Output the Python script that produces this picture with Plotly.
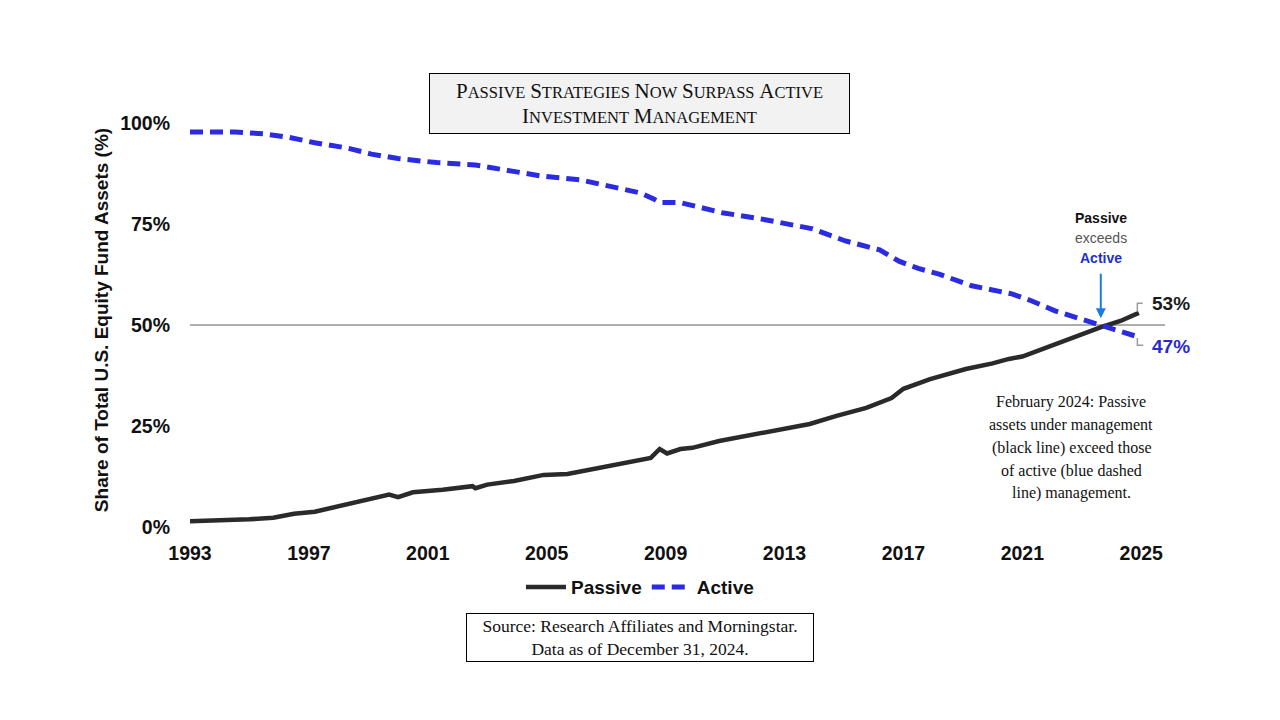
import plotly.graph_objects as go

# ---------------------------------------------------------
# DATA
# ---------------------------------------------------------
passive_years = [1993.0, 1994.0, 1995.0, 1995.8, 1996.5, 1997.2, 1997.8, 1998.5,
                 1999.3, 1999.7, 2000.0, 2000.5, 2001.5, 2002.5, 2002.6, 2003.0,
                 2003.9, 2004.9, 2005.7, 2006.8, 2007.6, 2008.5, 2008.8, 2009.05,
                 2009.5, 2009.9, 2010.8, 2011.5, 2012.2, 2013.0, 2013.85, 2014.75,
                 2015.75, 2016.6, 2017.0, 2017.9, 2019.1, 2020.0, 2020.55, 2021.0,
                 2021.65, 2022.8, 2023.65, 2024.3, 2024.92]
passive_share = [1.4, 1.6, 1.9, 2.3, 3.3, 3.8, 4.8, 5.8,
                 7.3, 8.0, 7.4, 8.6, 9.2, 10.1, 9.6, 10.5,
                 11.4, 12.9, 13.1, 14.6, 15.8, 17.1, 19.3, 18.2,
                 19.3, 19.6, 21.3, 22.2, 23.3, 24.3, 25.5, 27.5,
                 29.5, 31.9, 34.2, 36.6, 39.1, 40.5, 41.6, 42.2,
                 44.0, 47.3, 49.5, 51.0, 53.0]

active_years = [1993.0, 1994.5, 1995.5, 1996.3, 1997.2, 1998.3, 1999.1, 2000.0,
                2001.3, 2002.6, 2003.5, 2004.8, 2006.15, 2007.0, 2008.15, 2008.6,
                2008.8, 2009.5, 2010.2, 2010.9, 2012.25, 2013.0, 2013.95, 2015.05,
                2016.2, 2016.85, 2017.5, 2018.2, 2019.3, 2020.65, 2021.3, 2022.1,
                2023.0, 2023.55, 2024.55, 2024.92]
active_share = [97.8, 97.8, 97.3, 96.5, 95.1, 93.8, 92.3, 91.2,
                90.2, 89.6, 88.5, 86.9, 85.9, 84.6, 82.7, 81.2,
                80.3, 80.3, 79.2, 77.8, 76.2, 75.2, 73.8, 70.8,
                68.6, 65.8, 64.0, 62.6, 59.7, 57.7, 56.0, 53.5,
                51.5, 50.2, 47.8, 47.0]

x_ticks = [1993, 1997, 2001, 2005, 2009, 2013, 2017, 2021, 2025]
y_ticks = [0, 25, 50, 75, 100]

end_passive = 53
end_active = 47
crossover_year = 2023.64

note_lines = ["February 2024: Passive", "assets under management",
              "(black line) exceed those", "of active (blue dashed",
              "line) management."]

SANS = "Liberation Sans"
SERIF = "Liberation Serif"
BLACK = "#2a2a2a"
BLUE = "#2b2bdf"


def small_caps(text, big=21, small=16.5):
    # fake small caps: first letter of each word big, rest smaller capitals
    words = []
    for w in text.split(" "):
        words.append(f"<span style='font-size:{big}px'>{w[0].upper()}</span>"
                     f"<span style='font-size:{small}px'>{w[1:].upper()}</span>")
    return " ".join(words)


# ---------------------------------------------------------
# TRACES
# ---------------------------------------------------------
fig = go.Figure()
fig.add_trace(go.Scatter(
    x=passive_years, y=passive_share, mode="lines", name="Passive",
    line=dict(color=BLACK, width=4.5)
))
fig.add_trace(go.Scatter(
    x=active_years, y=active_share, mode="lines", name="Active",
    line=dict(color=BLUE, width=5, dash="13px,7px")
))

# 50% reference line
fig.add_shape(type="line", xref="paper", x0=0, x1=1, y0=50, y1=50,
              line=dict(color="#5e5e5e", width=1.2), layer="below")

# little grey brackets next to end labels
fig.add_shape(type="path", path="M 2024.87,53.3 L 2024.87,55.4 L 2025.05,55.4",
              line=dict(color="#9a9a9a", width=1.5))
fig.add_shape(type="path", path="M 2024.87,46.8 L 2024.87,45.0 L 2025.07,45.0",
              line=dict(color="#9a9a9a", width=1.5))

# ---------------------------------------------------------
# ANNOTATIONS
# ---------------------------------------------------------
# title box
fig.add_annotation(
    xref="paper", yref="paper", x=0.4615, y=1.048, xanchor="center", yanchor="middle",
    text=small_caps("Passive Strategies Now Surpass Active") + "<br>"
         + small_caps("Investment Management"),
    showarrow=False, align="center", width=417, height=57,
    bgcolor="#f2f2f2", bordercolor="#000000", borderwidth=1, borderpad=1,
    font=dict(family=SERIF, size=19, color="#111111")
)

# source box
fig.add_annotation(
    xref="paper", yref="paper", x=0.4615, y=-0.2735, xanchor="center", yanchor="middle",
    text="Source: Research Affiliates and Morningstar.<br>Data as of December 31, 2024.",
    showarrow=False, align="center", width=344, height=45,
    bgcolor="#ffffff", bordercolor="#000000", borderwidth=1, borderpad=1,
    font=dict(family=SERIF, size=17.5, color="#111111")
)

# explanatory note, one line at a time (reference has loose line spacing)
for i, line in enumerate(note_lines):
    fig.add_annotation(
        xref="paper", yref="paper", x=0.9036, y=0.309 - i * 0.0565,
        xanchor="center", yanchor="middle", text=line, showarrow=False,
        font=dict(family=SERIF, size=16, color="#111111")
    )

# "Passive exceeds Active" callout
fig.add_annotation(x=crossover_year, y=76.5, xanchor="center", yanchor="middle",
                   text="<b>Passive</b>", showarrow=False,
                   font=dict(family=SANS, size=14, color="#111111"))
fig.add_annotation(x=crossover_year, y=71.5, xanchor="center", yanchor="middle",
                   text="exceeds", showarrow=False,
                   font=dict(family=SANS, size=14, color="#555555"))
fig.add_annotation(x=crossover_year, y=66.6, xanchor="center", yanchor="middle",
                   text="<b>Active</b>", showarrow=False,
                   font=dict(family=SANS, size=14, color="#1f2fd0"))
fig.add_annotation(
    x=crossover_year, y=51.7, text="", showarrow=True,
    ax=0, ay=-46, arrowhead=2, arrowsize=1, arrowwidth=2, arrowcolor="#1b7be0"
)

# end labels
fig.add_annotation(
    x=2025.29, y=55.2, text=f"<b>{end_passive}%</b>", showarrow=False,
    xanchor="left", yanchor="middle", font=dict(family=SANS, size=19, color="#1a1a1a")
)
fig.add_annotation(
    x=2025.29, y=44.6, text=f"<b>{end_active}%</b>", showarrow=False,
    xanchor="left", yanchor="middle", font=dict(family=SANS, size=19, color="#2828d8")
)

# y-axis title
fig.add_annotation(
    xref="paper", yref="paper", x=-0.0913, y=0.512, xanchor="center", yanchor="middle",
    text="<b>Share of Total U.S. Equity Fund Assets (%)</b>",
    showarrow=False, textangle=-90,
    font=dict(family=SANS, size=19, color="#111111")
)

# ---------------------------------------------------------
# LAYOUT
# ---------------------------------------------------------
# page body adds an 8px offset, so margins are shifted up/left by 8px
fig.update_layout(
    width=1280, height=720,
    paper_bgcolor="white", plot_bgcolor="white",
    margin=dict(l=182, r=123, t=115, b=201),
    font=dict(family=SANS, color="#111111"),
    xaxis=dict(
        range=[1993, 2025.8], tickvals=x_ticks, ticktext=[str(v) for v in x_ticks],
        showgrid=False, zeroline=False, showline=False, ticks="",
        tickfont=dict(family=SANS, size=19.5, color="#111111", weight="bold"),
        ticklabelstandoff=12
    ),
    yaxis=dict(
        range=[0, 100], tickvals=y_ticks, ticktext=[f"{v}%" for v in y_ticks],
        showgrid=False, zeroline=False, showline=False, ticks="",
        tickfont=dict(family=SANS, size=19.5, color="#111111", weight="bold"),
        ticklabelstandoff=19
    ),
    showlegend=True,
    legend=dict(
        orientation="h", xref="paper", x=0.4615, xanchor="center",
        y=-0.149, yanchor="middle",
        font=dict(family=SANS, size=19, color="#111111", weight="bold"),
        itemwidth=40, tracegroupgap=0, bgcolor="rgba(0,0,0,0)"
    )
)

fig.write_html("out.html")
